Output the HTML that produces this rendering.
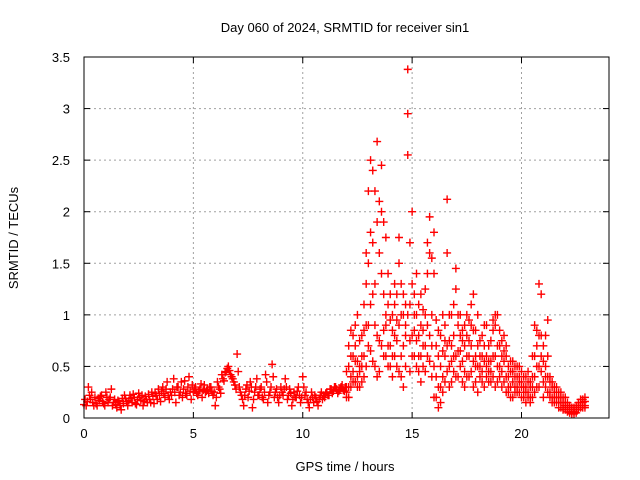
<!DOCTYPE html>
<html><head><meta charset="utf-8"><style>
body{margin:0;background:#fff;}
svg{display:block;font-family:"Liberation Sans",sans-serif;}
</style></head><body>
<svg id="chart" width="640" height="480">
<text x="345" y="32" text-anchor="middle" font-size="13">Day 060 of 2024, SRMTID for receiver sin1</text>
<text x="345" y="471" text-anchor="middle" font-size="13">GPS time / hours</text>
<text transform="translate(18,238) rotate(-90)" text-anchor="middle" font-size="13">SRMTID / TECUs</text>
<g id="grid"></g><g id="ticks"></g><g id="marks"></g>
<rect x="84" y="57" width="525" height="361" fill="none" stroke="#000" stroke-width="1"/>
</svg>
<script>
const xTicks=[0,5,10,15,20];
const yTicks=[0,0.5,1,1.5,2,2.5,3,3.5];
const yTickLabels=["0","0.5","1","1.5","2","2.5","3","3.5"];
const loTimes=[0,0.1,0.2,0.3,0.4,0.5,0.6,0.7,0.8,0.9,1,1.1,1.2,1.3,1.4,1.5,1.6,1.7,1.8,1.9,2,2.1,2.2,2.3,2.4,2.5,2.6,2.7,2.8,2.9,3,3.1,3.2,3.3,3.4,3.5,3.6,3.7,3.8,3.9,4,4.1,4.2,4.3,4.4,4.5,4.6,4.7,4.8,4.9,5,5.1,5.2,5.3,5.4,5.5,5.6,5.7,5.8,5.9,6,6.1,6.2,6.3,6.4,6.5,6.6,6.7,6.8,6.9,7,7.1,7.2,7.3,7.4,7.5,7.6,7.7,7.8,7.9,8,8.1,8.2,8.3,8.4,8.5,8.6,8.7,8.8,8.9,9,9.1,9.2,9.3,9.4,9.5,9.6,9.7,9.8,9.9,10,10.1,10.2,10.3,10.4,10.5,10.6,10.7,10.8,10.9,11,11.1,11.2,11.3,11.4,11.5,11.6,11.7,11.8,11.9];
const loVals=[0.13,0.12,0.30,0.18,0.15,0.20,0.12,0.17,0.22,0.14,
0.25,0.15,0.20,0.12,0.18,0.10,0.16,0.08,0.14,0.19,
0.12,0.22,0.15,0.20,0.13,0.24,0.17,0.12,0.21,0.15,
0.18,0.25,0.14,0.22,0.28,0.16,0.30,0.20,0.35,0.18,
0.22,0.38,0.15,0.30,0.25,0.20,0.36,0.22,0.40,0.18,
0.25,0.30,0.22,0.28,0.20,0.32,0.26,0.24,0.30,0.22,
0.12,0.35,0.28,0.42,0.36,0.45,0.50,0.42,0.38,0.32,
0.62,0.30,0.22,0.12,0.28,0.20,0.35,0.10,0.25,0.38,
0.22,0.30,0.18,0.42,0.15,0.25,0.52,0.20,0.28,0.15,
0.30,0.22,0.38,0.18,0.28,0.12,0.25,0.20,0.30,0.15,
0.40,0.22,0.18,0.10,0.25,0.15,0.20,0.12,0.22,0.18,
0.20,0.25,0.22,0.28,0.26,0.30,0.24,0.28,0.32,0.26];
const loTimes2=[0.05,0.15,0.25,0.35,0.45,0.55,0.65,0.75,0.85,0.95,1.05,1.15,1.25,1.35,1.45,1.55,1.65,1.75,1.85,1.95,2.05,2.15,2.25,2.35,2.45,2.55,2.65,2.75,2.85,2.95,3.05,3.15,3.25,3.35,3.45,3.55,3.65,3.75,3.85,3.95,4.05,4.15,4.25,4.35,4.45,4.55,4.65,4.75,4.85,4.95,5.05,5.15,5.25,5.35,5.45,5.55,5.65,5.75,5.85,5.95,6.05,6.15,6.25,6.35,6.45,6.55,6.65,6.75,6.85,6.95,7.05,7.15,7.25,7.35,7.45,7.55,7.65,7.75,7.85,7.95,8.05,8.15,8.25,8.35,8.45,8.55,8.65,8.75,8.85,8.95,9.05,9.15,9.25,9.35,9.45,9.55,9.65,9.75,9.85,9.95,10.05,10.15,10.25,10.35,10.45,10.55,10.65,10.75,10.85,10.95,11.05,11.15,11.25,11.35,11.45,11.55,11.65,11.75,11.85,11.95];
const loVals2=[.18,.16,.22,.25,.12,.14,.19,.21,.16,.12,
.20,.18,.28,.15,.13,.17,.12,.19,.22,.16,
.17,.19,.23,.14,.18,.20,.22,.16,.18,.23,
.15,.21,.24,.18,.22,.26,.24,.28,.22,.25,
.28,.25,.30,.22,.35,.28,.24,.30,.26,.32,
.28,.24,.26,.33,.27,.25,.28,.30,.26,.25,
.20,.30,.24,.38,.44,.48,.46,.40,.35,.28,
.45,.25,.18,.22,.32,.26,.30,.18,.30,.22,
.28,.20,.25,.35,.22,.30,.40,.25,.20,.22,
.25,.28,.30,.22,.24,.18,.20,.26,.22,.20,
.30,.25,.15,.18,.20,.22,.16,.18,.25,.22,
.24,.22,.28,.24,.30,.28,.26,.30,.27,.30];
const hiTimes=[12.0,12.2,12.4,12.6,12.8,13.0,13.2,13.4,13.6,13.8,14.0,14.2,14.4,14.6,14.8,15.0,15.2,15.4,15.6,15.8,16.0,16.2,16.4,16.6,16.8,17.0,17.2,17.4,17.6,17.8,18.0,18.2,18.4,18.6,18.8,19.0,19.2,19.4,19.6,19.8,20.0,20.2,20.4,20.6,20.8,21.0,21.2,21.4,21.6,21.8,22.0,22.2,22.4,22.6,22.8];
const hiVals=[[.25,.30,.45,.20],[.40,.60,.30,.85],[.35,.55,.90,.70],[.50,.75,.45,.30],[.60,1.1,.85,.40],
[1.5,.9,.7,2.2],[2.4,1.7,.55,1.2],[2.68,1.9,.8,.4],[2.45,1.4,.7,2.0],[1.75,1.0,.6,.9],
[.95,.5,1.2,.7],[.8,1.1,.6,1.3],[1.5,.9,.45,1.75],[.7,1.2,1.0,.3],[3.38,2.95,2.55,1.0],
[2.0,1.3,.8,.6],[1.0,.5,1.4,.75],[.9,.6,1.2,.35],[1.25,.7,1.0,.45],[1.95,1.6,.8,.55],
[1.8,1.4,.5,.2],[.6,.3,.85,.1],[1.0,.65,.4,.25],[2.12,1.6,.7,.45],[1.0,.7,.35,.55],
[1.25,1.45,.6,.4],[.8,.5,1.0,.65],[.9,.45,.7,.3],[.95,.6,.4,.75],[1.2,.55,.85,.3],
[1.0,.7,.5,.25],[.8,.45,.6,.35],[.6,.9,.4,.5],[.75,.55,.35,.45],[.9,1.0,.6,.3],
[.85,.5,.4,.7],[.55,.35,.65,.8],[.5,.3,.4,.25],[.45,.2,.35,.55],[.4,.25,.3,.5],
[.35,.2,.45,.3],[.3,.15,.25,.4],[.35,.2,.3,.15],[.9,.6,.4,.25],[.8,1.3,.5,.3],
[.55,.35,.2,.7],[.95,.4,.25,.6],[.35,.2,.3,.15],[.3,.15,.2,.25],[.2,.1,.15,.25],
[.15,.08,.12,.2],[.1,.05,.08,.12],[.06,.1,.04,.08],[.12,.08,.15,.1],[.18,.12,.15,.1]];
const hiTimes2=[12.1,12.3,12.5,12.7,12.9,13.1,13.3,13.5,13.7,13.9,14.1,14.3,14.5,14.7,14.9,15.1,15.3,15.5,15.7,15.9,16.1,16.3,16.5,16.7,16.9,17.1,17.3,17.5,17.7,17.9,18.1,18.3,18.5,18.7,18.9,19.1,19.3,19.5,19.7,19.9,20.1,20.3,20.5,20.7,20.9,21.1,21.3,21.5,21.7,21.9,22.1,22.3,22.5,22.7,22.9];
const hiVals2=[[.3,.5,.2,.7],[.45,.8,.35,.6],[.55,.4,1.0,.3],[.8,.6,.35,.5],[.9,1.3,.5,1.6],
[1.8,.65,1.1,2.5],[2.2,1.3,.9,.5],[2.1,1.6,.75,.45],[1.9,1.2,.6,.85],[1.1,.7,.5,1.4],
[.85,.6,1.0,.4],[1.2,.75,.5,.95],[1.0,.6,1.3,.4],[.9,1.1,.5,.8],[1.7,1.1,.75,.45],
[1.2,.85,.6,1.0],[.8,.45,1.1,.6],[1.05,.7,.5,.85],[1.7,1.4,.9,.6],[1.55,1.0,.7,.4],
[.7,.4,.2,.95],[.8,.5,.3,.15],[.9,.6,.35,.75],[1.0,.75,.5,.3],[.8,.6,.45,1.1],
[1.0,.65,.4,.9],[.75,.55,.85,.35],[.8,.6,.4,1.0],[1.1,.7,.45,.9],[.85,.6,.35,.5],
[.75,.5,.4,.6],[.9,.55,.3,.7],[.7,.45,.55,.35],[.85,.6,.4,.95],[1.0,.7,.5,.35],
[.75,.45,.6,.3],[.6,.4,.7,.25],[.45,.3,.55,.2],[.4,.3,.5,.25],[.35,.25,.4,.5],
[.3,.2,.4,.25],[.35,.25,.2,.45],[.6,.3,.2,.4],[.85,.5,.3,.7],[1.2,.8,.45,.6],
[.5,.3,.8,.4],[.4,.25,.35,.2],[.3,.2,.25,.15],[.25,.15,.2,.1],[.15,.1,.2,.08],
[.12,.06,.1,.15],[.08,.04,.1,.06],[.1,.05,.08,.12],[.15,.1,.12,.18],[.16,.12,.1,.2]];

const L=84,R=609,T=57,B=418,XMAX=24,YMAX=3.5;
const xs=v=>L+v/XMAX*(R-L);
const ys=v=>B-v/YMAX*(B-T);
const NS="http://www.w3.org/2000/svg";
function mk(tag,attrs,parent){const e=document.createElementNS(NS,tag);for(const k in attrs)e.setAttribute(k,attrs[k]);parent.appendChild(e);return e;}
const grid=document.getElementById('grid'),ticks=document.getElementById('ticks'),marks=document.getElementById('marks');
xTicks.forEach(t=>{const x=xs(t);
 if(t>0){const g=mk('line',{x1:x,x2:x,y1:T,y2:B,stroke:'#a0a0a0','stroke-dasharray':'2,3'},grid);
 
 }
 mk('line',{x1:x,x2:x,y1:B,y2:B-6,stroke:'#000'},ticks);
 mk('line',{x1:x,x2:x,y1:T,y2:T+6,stroke:'#000'},ticks);
 const tx=mk('text',{x:x,y:B+20,'text-anchor':'middle','font-size':13},ticks);tx.textContent=t;
 
 
});
yTicks.forEach((t,i)=>{const y=ys(t);
 if(t>0&&t<YMAX){const g=mk('line',{x1:L,x2:R,y1:y,y2:y,stroke:'#a0a0a0','stroke-dasharray':'2,3'},grid);
 
 }
 mk('line',{x1:L,x2:L+6,y1:y,y2:y,stroke:'#000'},ticks);
 mk('line',{x1:R,x2:R-6,y1:y,y2:y,stroke:'#000'},ticks);
 const tx=mk('text',{x:70,y:y+5,'text-anchor':'end','font-size':13},ticks);tx.textContent=yTickLabels[i];
 
 
});
function plus(t,v){const x=xs(t),y=ys(v);
 const p=mk('path',{d:`M${x-4},${y}h8M${x},${y-4}v8`,stroke:'#ff0000','stroke-width':1.4,fill:'none'},marks);
 
 }
loTimes.forEach((t,i)=>plus(t,loVals[i]));
loTimes2.forEach((t,i)=>plus(t,loVals2[i]));
hiTimes.forEach((t,i)=>hiVals[i].forEach(v=>plus(t,v)));
hiTimes2.forEach((t,i)=>hiVals2[i].forEach(v=>plus(t,v)));
</script>
</body></html>
